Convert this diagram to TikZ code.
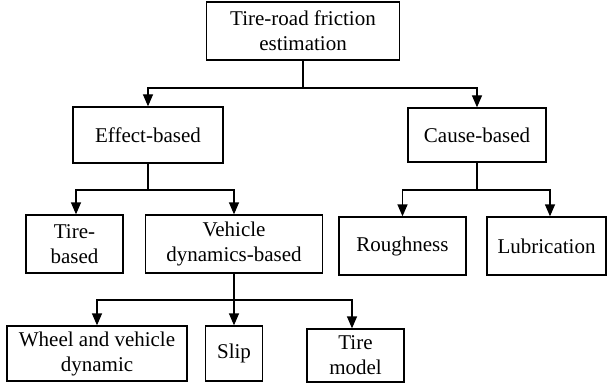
\documentclass[tikz,border=0pt]{standalone}
\usepackage{fontspec}
\setmainfont{Liberation Serif}
\usepackage{tikz}
\usetikzlibrary{arrows.meta}

\begin{document}
\begin{tikzpicture}[x=1pt, y=-1pt, line width=1.3pt,
    box/.style={draw, rectangle, align=center, inner sep=0pt, font=\fontsize{21}{25}\selectfont},
    arr/.style={-{Triangle[length=12pt, width=10pt]}}]
    \useasboundingbox (0,0) rectangle (608,385);

    \node[box, minimum width=193pt, minimum height=58pt] (root) at (303,31) {Tire-road friction\\estimation};
    \node[box, minimum width=150pt, minimum height=56pt] (effect) at (148,135) {Effect-based};
    \node[box, minimum width=138pt, minimum height=54pt] (cause) at (477,135) {Cause-based};
    \node[box, minimum width=97pt, minimum height=58pt] (tire) at (74.5,244) {Tire-\\based};
    \node[box, minimum width=177pt, minimum height=58pt] (vehicle) at (234,244) {Vehicle\\dynamics-based};
    \node[box, minimum width=127pt, minimum height=58pt] (rough) at (402.5,246) {Roughness};
    \node[box, minimum width=119pt, minimum height=58pt] (lub) at (546.5,246) {Lubrication};
    \node[box, minimum width=180pt, minimum height=55pt] (wheel) at (97,353.5) {Wheel and vehicle\\dynamic};
    \node[box, minimum width=57pt, minimum height=55pt] (slip) at (234,353.5) {Slip};
    \node[box, minimum width=97pt, minimum height=53pt] (model) at (355.5,355.5) {Tire\\model};

    \coordinate (j1) at (303,88);
    \coordinate (j2) at (148,190);
    \coordinate (j3) at (477,190);
    \coordinate (j4) at (234,300);

    \draw (root.south) -- (j1);
    \draw[arr] (j1) -| (effect.north);
    \draw[arr] (j1) -| (cause.north);

    \draw (effect.south) -- (j2);
    \draw[arr] (j2) -| ([xshift=1.5pt]tire.north);
    \draw[arr] (j2) -| (vehicle.north);

    \draw (cause.south) -- (j3);
    \draw[arr] (j3) -| (rough.north);
    \draw[arr] (j3) -| ([xshift=3.5pt]lub.north);

    \draw[arr] (vehicle.south) -- (slip.north);
    \draw[arr] (j4) -| (wheel.north);
    \draw[arr] (j4) -| ([xshift=-3.5pt]model.north);
\end{tikzpicture}
\end{document}
